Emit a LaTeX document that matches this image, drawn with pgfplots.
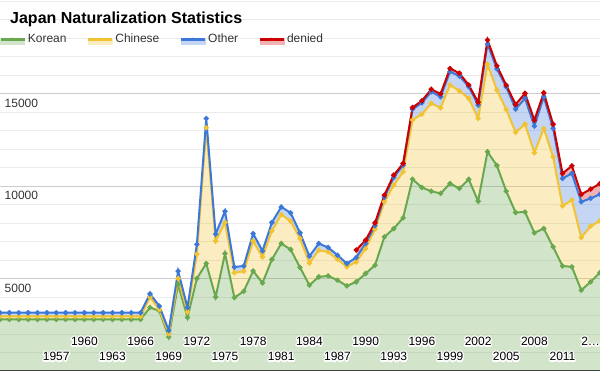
\documentclass[border=0pt]{standalone}
\usepackage{pgfplots}
\pgfplotsset{compat=1.18}
\usepackage{pgfplotstable}
\usepgfplotslibrary{fillbetween}
\usepackage{fontspec}
\setmainfont{Liberation Sans}
\usepackage[copies]{contour}
\contourlength{1.3pt}
\contournumber{16}

\definecolor{kline}{HTML}{6AA84F}
\definecolor{cline}{HTML}{F1C232}
\definecolor{oline}{HTML}{3C78D8}
\definecolor{dline}{HTML}{CC0000}
\definecolor{majgrid}{HTML}{CCCCCC}
\definecolor{mingrid}{HTML}{EBEBEB}
\definecolor{labelgray}{HTML}{333333}

\newcommand{\hl}[1]{\contour{white}{#1}}

\pgfplotstableread{
year korean chinese other denied
1951 2790 170 190 0
1952 2790 170 190 0
1953 2790 170 190 0
1954 2790 170 190 0
1955 2790 170 190 0
1956 2790 170 190 0
1957 2790 170 190 0
1958 2790 170 190 0
1959 2790 170 190 0
1960 2790 170 190 0
1961 2790 170 190 0
1962 2790 170 190 0
1963 2790 170 190 0
1964 2790 170 190 0
1965 2790 170 190 0
1966 2790 170 190 0
1967 3430 570 170 0
1968 3250 70 190 0
1969 1840 180 170 0
1970 4690 310 400 0
1971 2890 300 240 0
1972 5000 1320 530 0
1973 5810 7340 500 0
1974 4000 3030 370 0
1975 6350 1680 610 0
1976 3970 1350 300 0
1977 4310 1080 290 0
1978 5410 1620 400 0
1979 4760 1410 320 0
1980 6030 1550 450 0
1981 6890 1570 410 0
1982 6570 1530 450 0
1983 5600 1560 310 0
1984 4640 1200 370 0
1985 5090 1440 360 0
1986 5140 1300 240 0
1987 4910 1130 220 0
1988 4600 1030 180 0
1989 4820 1080 240 400
1990 5270 1350 270 180
1991 5720 1950 180 160
1992 7250 1900 240 120
1993 7700 2350 420 120
1994 8280 2490 360 90
1995 10370 3200 580 90
1996 9920 3970 610 110
1997 9720 4750 630 130
1998 9600 4630 600 150
1999 10140 5320 720 180
2000 9870 5280 800 150
2001 10360 4380 630 90
2002 9180 4480 720 150
2003 11850 4730 1100 220
2004 11110 4080 1150 160
2005 9720 4420 1220 90
2006 8570 4330 1260 250
2007 8600 4750 1390 270
2008 7470 4330 1440 320
2009 7700 5410 1710 220
2010 6710 4870 1540 220
2011 5680 3250 1480 270
2012 5630 3610 1440 410
2013 4370 2850 1930 400
2014 4820 3010 1500 500
2015 5320 2800 1440 580
}\data

\begin{document}
\begin{tikzpicture}
\begin{axis}[
  scale only axis, width=600pt, height=371pt,
  xmin=1951, xmax=2015, ymin=0, ymax=20060,
  axis line style={draw=none},
  tick style={draw=none},
  major tick length=0pt, minor tick length=0pt,
  ytick={5000,10000,15000},
  yticklabels={5000,10000,15000},
  minor ytick={1000,2000,3000,4000,6000,7000,8000,9000,11000,12000,13000,14000,16000,17000,18000,19000,20000},
  ymajorgrids, yminorgrids,
  major grid style={draw=majgrid, line width=1pt},
  minor grid style={draw=mingrid, line width=1pt},
  /pgf/number format/assume math mode=true,
  yticklabel style={anchor=north west, inner sep=0pt, xshift=4.5pt, yshift=-5pt,
     font=\fontsize{12}{14}\selectfont, text=labelgray},
  xtick={1957,1963,1969,1975,1981,1987,1993,1999,2005,2011},
  xticklabels={\hl{1957},\hl{1963},\hl{1969},\hl{1975},\hl{1981},\hl{1987},\hl{1993},\hl{1999},\hl{2005},\hl{2011}},
  xticklabel style={anchor=base, inner sep=0pt, yshift=10pt,
     font=\fontsize{12}{14}\selectfont, text=black},
  extra x ticks={1960,1966,1972,1978,1984,1990,1996,2002,2008,2014},
  extra x tick labels={\hl{1960},\hl{1966},\hl{1972},\hl{1978},\hl{1984},\hl{1990},\hl{1996},\hl{2002},\hl{2008},\hl{2…}},
  extra x tick style={xticklabel style={yshift=15pt}},
  title={Japan Naturalization Statistics},
  every axis title/.style={at={(0,1)}, anchor=north west, inner sep=0pt,
     xshift=10pt, yshift=-12pt, font=\bfseries\fontsize{16}{18}\selectfont},
  legend columns=4,
  legend style={at={(0,1)}, anchor=north west, draw=none, fill=none,
     inner sep=0pt, yshift=-32pt, xshift=-0.8pt,
     font=\fontsize{12}{14}\selectfont, text=labelgray,
     /tikz/every even column/.append style={column sep=18.3pt}},
  legend cell align=left,
]
% invisible boundary paths
\addplot[draw=none, forget plot, name path=B] table[x=year, y expr=0] {\data};
\addplot[draw=none, forget plot, name path=K] table[x=year, y=korean] {\data};
\addplot[draw=none, forget plot, name path=C] table[x=year, y expr=\thisrow{korean}+\thisrow{chinese}] {\data};
\addplot[draw=none, forget plot, name path=O] table[x=year, y expr=\thisrow{korean}+\thisrow{chinese}+\thisrow{other}] {\data};
\addplot[draw=none, forget plot, name path=D] table[x=year, y expr=\thisrow{korean}+\thisrow{chinese}+\thisrow{other}+\thisrow{denied}] {\data};
% fills
\addplot[fill=kline, fill opacity=0.3, draw=none, forget plot] fill between[of=K and B];
\addplot[fill=cline, fill opacity=0.3, draw=none, forget plot] fill between[of=C and K];
\addplot[fill=oline, fill opacity=0.3, draw=none, forget plot] fill between[of=O and C];
\addplot[fill=dline, fill opacity=0.3, draw=none, forget plot] fill between[of=D and O, soft clip={domain=1989:2015}];
% baseline
\addplot[black!75, line width=1.5pt, forget plot] table[x=year, y expr=0] {\data};
% lines
\addplot[kline, line width=2pt, mark=*, mark size=1.5pt, forget plot] table[x=year, y=korean] {\data};
\addplot[cline, line width=2pt, mark=*, mark size=1.5pt, forget plot] table[x=year, y expr=\thisrow{korean}+\thisrow{chinese}] {\data};
\addplot[oline, line width=2pt, mark=*, mark size=1.5pt, forget plot] table[x=year, y expr=\thisrow{korean}+\thisrow{chinese}+\thisrow{other}] {\data};
\addplot[dline, line width=2pt, mark=*, mark size=1.5pt, forget plot, restrict x to domain=1989:2015] table[x=year, y expr=\thisrow{korean}+\thisrow{chinese}+\thisrow{other}+\thisrow{denied}] {\data};
% legend
\addlegendimage{legend image code/.code={
  \fill[kline!30] (0pt,0pt) rectangle (24pt,-5pt);
  \draw[kline, line width=2.5pt] (0pt,0pt) -- (24pt,0pt);
  \fill[kline] (12pt,0pt) circle (1.5pt);}}
\addlegendimage{legend image code/.code={
  \fill[cline!30] (0pt,0pt) rectangle (24pt,-5pt);
  \draw[cline, line width=2.5pt] (0pt,0pt) -- (24pt,0pt);
  \fill[cline] (12pt,0pt) circle (1.5pt);}}
\addlegendimage{legend image code/.code={
  \fill[oline!30] (0pt,0pt) rectangle (24pt,-5pt);
  \draw[oline, line width=2.5pt] (0pt,0pt) -- (24pt,0pt);
  \fill[oline] (12pt,0pt) circle (1.5pt);}}
\addlegendimage{legend image code/.code={
  \fill[dline!30] (0pt,0pt) rectangle (24pt,-5pt);
  \draw[dline, line width=2.5pt] (0pt,0pt) -- (24pt,0pt);
  \fill[dline] (12pt,0pt) circle (1.5pt);}}
\legend{Korean,Chinese,Other,denied}
\end{axis}
\pgfresetboundingbox
\useasboundingbox (current axis.south west) rectangle (current axis.north east);
\end{tikzpicture}
\end{document}
